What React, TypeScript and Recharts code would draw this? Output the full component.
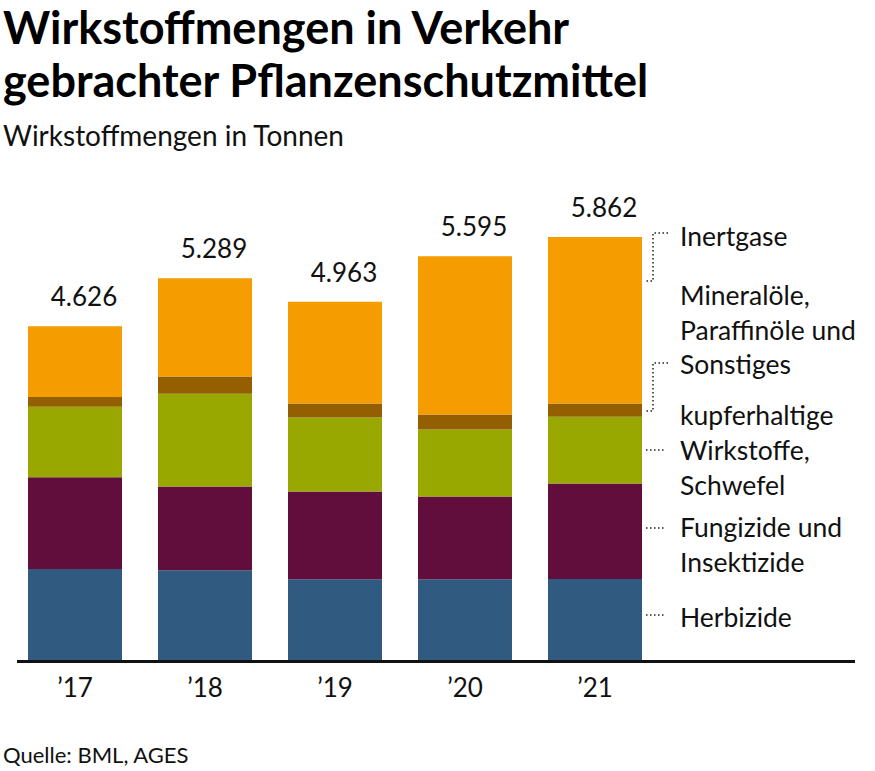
import { BarChart, Bar, XAxis, YAxis, LabelList } from 'recharts';

const years = ['’17', '’18', '’19', '’20', '’21'];
const herbizide = [1260, 1242, 1118, 1118, 1122];
const fungizide = [1274, 1163, 1218, 1149, 1325];
const kupfer = [974, 1283, 1025, 928, 922];
const mineraloele = [138, 241, 194, 208, 186];
const inertgase = [980, 1360, 1408, 2192, 2307];

const FONT = 'Lato, "Open Sans", sans-serif';

// German thousands separator
const fmt = (n: number) => {
  const s = String(Math.round(n));
  return s.replace(/\B(?=(\d{3})+(?!\d))/g, '.');
};

const data = years.map((y, i) => ({
  year: y,
  herbizide: herbizide[i],
  fungizide: fungizide[i],
  kupfer: kupfer[i],
  mineraloele: mineraloele[i],
  inertgase: inertgase[i],
  total: herbizide[i] + fungizide[i] + kupfer[i] + mineraloele[i] + inertgase[i],
}));

const TotalLabel = (props: any) => {
  const { x, y, width, value } = props;
  return (
    <text x={x + width / 2 + 9} y={y - 20} textAnchor="middle" fontFamily={FONT} fontSize={26} fill="#111">
      {fmt(value)}
    </text>
  );
};

const YearTick = (props: any) => {
  const { x, y, payload } = props;
  return (
    <text x={x} y={y + 37} textAnchor="middle" fontFamily={FONT} fontSize={26} fill="#111">
      {payload.value}
    </text>
  );
};

const dotted = { stroke: '#222', strokeWidth: 1.5, strokeDasharray: '1.5 2.5', fill: 'none' };

export default function App() {
  return (
    <div style={{ position: 'absolute', left: 0, top: 0, width: 875, height: 771, background: '#fff', fontFamily: FONT }}>
      <BarChart
        width={875}
        height={771}
        data={data}
        margin={{ top: 227, right: 215, bottom: 71, left: 10 }}
        barSize={94}
      >
        <XAxis
          dataKey="year"
          height={40}
          axisLine={false}
          tickLine={false}
          tickSize={0}
          tickMargin={0}
          tick={<YearTick />}
          interval={0}
        />
        <YAxis hide domain={[0, 6000]} />
        <Bar dataKey="herbizide" stackId="a" fill="#305a80" isAnimationActive={false} />
        <Bar dataKey="fungizide" stackId="a" fill="#620e3c" isAnimationActive={false} />
        <Bar dataKey="kupfer" stackId="a" fill="#99a800" isAnimationActive={false} />
        <Bar dataKey="mineraloele" stackId="a" fill="#935f00" isAnimationActive={false} />
        <Bar dataKey="inertgase" stackId="a" fill="#f59c00" isAnimationActive={false}>
          <LabelList dataKey="total" content={<TotalLabel />} />
        </Bar>
      </BarChart>

      <svg width={875} height={771} style={{ position: 'absolute', left: 0, top: 0, pointerEvents: 'none' }}>
        <text x={3} y={44} fontFamily={FONT} fontWeight={700} fontSize={45} fill="#000">Wirkstoffmengen in Verkehr</text>
        <text x={3} y={97} fontFamily={FONT} fontWeight={700} fontSize={45} fill="#000">gebrachter Pflanzenschutzmittel</text>
        <text x={3} y={146} fontFamily={FONT} fontSize={28} fill="#111">Wirkstoffmengen in Tonnen</text>

        <rect x={17} y={660} width={838} height={3} fill="#111" />

        <polyline points="668,233 653,233 653,281 646,281" {...dotted} />
        <polyline points="668,363 653,363 653,411 646,411" {...dotted} />
        <line x1={646} y1={450} x2={666} y2={450} {...dotted} />
        <line x1={646} y1={528} x2={666} y2={528} {...dotted} />
        <line x1={646} y1={615} x2={666} y2={615} {...dotted} />

        <g fontFamily={FONT} fontSize={26.5} fill="#111">
          <text x={680} y={246}>Inertgase</text>
          <text x={680} y={305}>Mineralöle,</text>
          <text x={680} y={340}>Paraffinöle und</text>
          <text x={680} y={374}>Sonstiges</text>
          <text x={680} y={425}>kupferhaltige</text>
          <text x={680} y={460}>Wirkstoffe,</text>
          <text x={680} y={495}>Schwefel</text>
          <text x={680} y={537}>Fungizide und</text>
          <text x={680} y={572}>Insektizide</text>
          <text x={680} y={627}>Herbizide</text>
        </g>

        <text x={3} y={763} fontFamily={FONT} fontSize={22} fill="#111">Quelle: BML, AGES</text>
      </svg>
    </div>
  );
}
